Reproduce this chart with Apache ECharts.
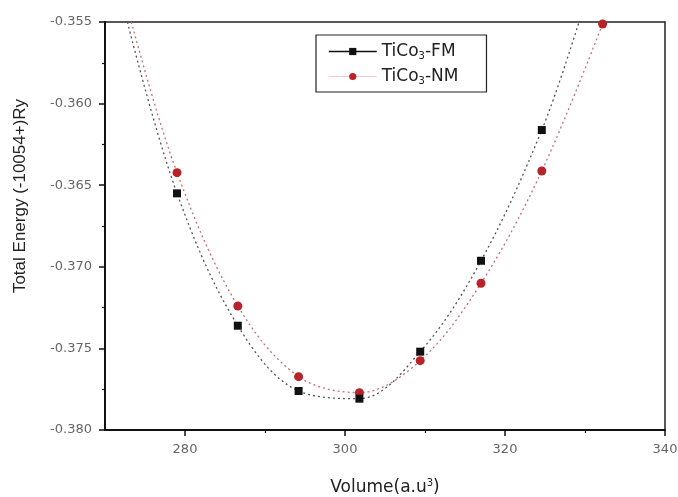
<!DOCTYPE html>
<html>
<head>
<meta charset="utf-8">
<script src="https://cdn.jsdelivr.net/npm/echarts@6/dist/echarts.min.js"></script>
<style>
html,body{margin:0;padding:0;background:#fff;}
#chart{width:678px;height:497px;}
</style>
</head>
<body>
<div id="chart"></div>
<script>
// ---- data ----
const volumes = [279.0, 286.6, 294.2, 301.8, 309.4, 317.0, 324.6, 332.2];
const fmEnergy = [-0.36550, -0.37361, -0.37761, -0.37808, -0.37520, -0.36963, -0.36162];
const nmEnergy = [-0.36423, -0.37240, -0.37673, -0.37771, -0.37575, -0.37101, -0.36413, -0.35512];
// where the fitted dotted curves leave the plot frame
const fmFitStart = [272.8, -0.355];
const fmFitEnd = [329.25, -0.355];
const nmFitStart = [273.3, -0.355];
const xMajorTicks = [280, 300, 320, 340];
const xMinorTicks = [290, 310, 330];
const seriesNames = ['TiCo3-FM', 'TiCo3-NM'];

function build(energies, start, end) {
  const d = [];
  if (start) d.push({ value: start, symbol: 'none' });
  energies.forEach((e, i) => d.push([volumes[i], e]));
  if (end) d.push({ value: end, symbol: 'none' });
  return d;
}

const font = '"Liberation Sans", Arial, sans-serif';
const wide = '"DejaVu Sans", sans-serif';
const chart = echarts.init(document.getElementById('chart'), null, { renderer: 'canvas' });

const legendFmt = name => name === 'TiCo3-FM' ? 'TiCo{sub|3}-FM' : 'TiCo{sub|3}-NM';

chart.setOption({
  backgroundColor: '#fff',
  animation: false,
  textStyle: { fontFamily: font },
  grid: { left: 105, right: 13, top: 22, bottom: 67, show: true, borderColor: '#222', borderWidth: 1.5,
          containLabel: false, outerBoundsMode: 'none' },
  legend: {
    orient: 'vertical',
    left: 316, top: 35,
    padding: [8, 28, 6, 12],
    itemGap: 7,
    itemWidth: 48, itemHeight: 9,
    borderColor: '#222', borderWidth: 1.2,
    backgroundColor: '#fff',
    formatter: legendFmt,
    textStyle: {
      fontSize: 17, color: '#222', fontFamily: wide,
      rich: { sub: { fontSize: 10, fontFamily: wide, verticalAlign: 'bottom', padding: [9, 0, 0, 0], color: '#222' } }
    },
    data: [
      { name: seriesNames[0], lineStyle: { type: 'solid', width: 1.5, color: '#111' } },
      { name: seriesNames[1], lineStyle: { type: 'solid', width: 1, color: '#f0c8c8' } }
    ]
  },
  xAxis: [{
    type: 'value', min: 270, max: 340, interval: 10,
    name: 'Volume(a.u{sup|3})', nameLocation: 'middle', nameGap: 48,
    nameTextStyle: { fontSize: 17, color: '#222', fontFamily: wide,
      rich: { sup: { fontSize: 10, fontFamily: wide, verticalAlign: 'top', padding: [0, 0, 9, 0], color: '#222' } } },
    axisLine: { show: true, lineStyle: { color: '#111', width: 2 } },
    axisTick: { show: true, length: 6, customValues: xMajorTicks, lineStyle: { color: '#111', width: 1.5 } },
    axisLabel: { customValues: xMajorTicks, fontSize: 13, fontFamily: wide, color: '#666', margin: 13 },
    splitLine: { show: false }
  }, {
    type: 'value', min: 270, max: 340, interval: 10, position: 'bottom',
    axisLine: { show: false },
    axisTick: { show: true, length: 3, customValues: xMinorTicks, lineStyle: { color: '#111', width: 1.2 } },
    axisLabel: { show: false },
    splitLine: { show: false }
  }],
  yAxis: {
    type: 'value', min: -0.380, max: -0.355, interval: 0.005,
    name: 'Total Energy (-10054+)Ry', nameLocation: 'middle', nameGap: 76, nameRotate: 90,
    nameTextStyle: { fontSize: 17, color: '#222', fontFamily: font, padding: [0, 0, 0, 60] },
    axisLine: { show: true, lineStyle: { color: '#111', width: 2 } },
    axisTick: { show: true, length: 6, lineStyle: { color: '#111', width: 1.5 } },
    minorTick: { show: true, splitNumber: 2, length: 3, lineStyle: { color: '#111', width: 1.2 } },
    axisLabel: { fontSize: 13, fontFamily: wide, color: '#666', margin: 13, formatter: v => v.toFixed(3) },
    splitLine: { show: false }
  },
  series: [{
    name: seriesNames[0], type: 'line', smooth: 0.35,
    data: build(fmEnergy, fmFitStart, fmFitEnd),
    symbol: 'rect', symbolSize: 8, showAllSymbol: true,
    itemStyle: { color: '#111' },
    lineStyle: { color: '#555', width: 1.3, type: [2, 3] },
    z: 3
  }, {
    name: seriesNames[1], type: 'line', smooth: 0.35,
    data: build(nmEnergy, nmFitStart, null),
    symbol: 'circle', symbolSize: 9, showAllSymbol: true,
    itemStyle: { color: '#b82228' },
    lineStyle: { color: '#c87070', width: 1.3, type: [2, 3] },
    z: 2
  }]
});
</script>
</body>
</html>
